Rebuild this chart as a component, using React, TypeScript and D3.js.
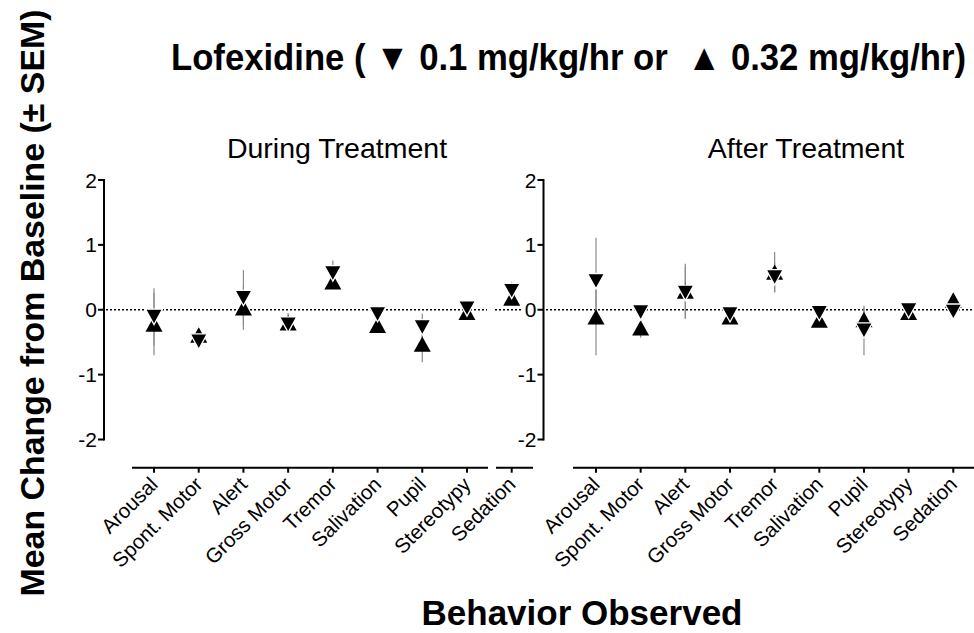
import React from "react";
import * as d3 from "d3";

const categories = ["Arousal", "Spont. Motor", "Alert", "Gross Motor", "Tremor", "Salivation", "Pupil", "Stereotypy", "Sedation"];
const yTicks = [2, 1, 0, -1, -2];

// During treatment: ▼ 0.1 mg/kg/hr and ▲ 0.32 mg/kg/hr
const duringLow = [-0.11, -0.49, 0.18, -0.23, 0.56, -0.07, -0.27, 0.02, 0.29];
const duringLowSem = [0.44, 0.05, 0.43, 0.1, 0.2, 0.04, 0.21, 0.03, 0.14];
const duringHigh = [-0.22, -0.39, 0.03, -0.2, 0.43, -0.24, -0.53, -0.04, 0.18];
const duringHighSem = [0.48, 0.1, 0.34, 0.15, 0.08, 0.05, 0.28, 0.05, 0.05];

// After treatment
const afterLow = [0.44, -0.04, 0.26, -0.07, 0.5, -0.05, -0.32, -0.01, -0.03];
const afterLowSem = [0.67, 0.05, 0.4, 0.05, 0.23, 0.05, 0.38, 0.05, 0.05];
const afterHigh = [-0.11, -0.28, 0.29, -0.11, 0.58, -0.16, -0.15, -0.04, 0.15];
const afterHighSem = [0.59, 0.15, 0.42, 0.05, 0.31, 0.05, 0.18, 0.05, 0.05];

const FONT = "'Liberation Sans', Arial, Helvetica, sans-serif";

const y = d3.scaleLinear().domain([-2, 2]).range([439.5, 180]);

const TW = 8.5;
const TH = 7.7;
const upPath = `M0,${-TH} L${TW},${TH} L${-TW},${TH} Z`;
const downPath = `M0,${TH} L${TW},${-TH} L${-TW},${-TH} Z`;

type PanelProps = {
  yAxisX: number;
  range: [number, number];
  low: number[];
  lowSem: number[];
  high: number[];
  highSem: number[];
  axisSegments: [number, number][];
  zeroSegments: [number, number][];
  title: string;
  titleX: number;
};

function Panel(p: PanelProps) {
  const x = d3.scalePoint<string>().domain(categories).range(p.range);
  const axisY = 467.7;
  return (
    <g>
      {/* y axis */}
      <line x1={p.yAxisX} x2={p.yAxisX} y1={y(2) - 1} y2={y(-2) + 1} stroke="#000" strokeWidth={2} />
      {yTicks.map((t) => (
        <g key={t}>
          <line x1={p.yAxisX - 6} x2={p.yAxisX} y1={y(t)} y2={y(t)} stroke="#000" strokeWidth={2} />
          <text x={p.yAxisX - 7} y={y(t)} dy="0.36em" textAnchor="end" fontSize={21} fontFamily={FONT}>
            {t < 0 ? `-${Math.abs(t)}` : t}
          </text>
        </g>
      ))}
      {/* zero dotted line */}
      {p.zeroSegments.map(([a, b], i) => (
        <line key={i} x1={a} x2={b} y1={y(0)} y2={y(0)} stroke="#000" strokeWidth={1.5} strokeDasharray="2,2" />
      ))}
      {/* x axis */}
      {p.axisSegments.map(([a, b], i) => (
        <line key={i} x1={a} x2={b} y1={axisY} y2={axisY} stroke="#000" strokeWidth={2} />
      ))}
      {categories.map((c) => (
        <g key={c}>
          <line x1={x(c)} x2={x(c)} y1={axisY} y2={axisY + 5} stroke="#000" strokeWidth={2} />
          <text
            transform={`translate(${(x(c) as number) + 5},${axisY + 18}) rotate(-45)`}
            textAnchor="end"
            fontSize={20.5}
            fontFamily={FONT}
          >
            {c}
          </text>
        </g>
      ))}
      {/* error bars */}
      {categories.map((c, i) => (
        <g key={"e" + c} stroke="#8a8a8a" strokeWidth={1.2}>
          <line x1={x(c)} x2={x(c)} y1={y(p.low[i] + p.lowSem[i])} y2={y(p.low[i] - p.lowSem[i])} />
          <line x1={x(c)} x2={x(c)} y1={y(p.high[i] + p.highSem[i])} y2={y(p.high[i] - p.highSem[i])} />
        </g>
      ))}
      {/* markers: high dose (up) behind, low dose (down) on top */}
      {categories.map((c, i) => (
        <path key={"u" + c} d={upPath} transform={`translate(${x(c)},${y(p.high[i])})`} fill="#000" />
      ))}
      {categories.map((c, i) => (
        <path
          key={"d" + c}
          d={downPath}
          transform={`translate(${x(c)},${y(p.low[i])})`}
          fill="#000"
          stroke="#fff"
          strokeWidth={1.3}
          strokeLinejoin="miter"
        />
      ))}
      <text x={p.titleX} y={158} textAnchor="middle" fontSize={28.5} fontFamily={FONT}>
        {p.title}
      </text>
    </g>
  );
}

export default function App() {
  return (
    <svg
      width={974}
      height={633}
      viewBox="0 0 974 633"
      style={{ position: "fixed", left: 0, top: 0, background: "#fff" }}
    >
      <rect width={974} height={633} fill="#fff" />
      <text
        x={171}
        y={70}
        fontSize={37}
        fontWeight="bold"
        fontFamily={FONT}
        textLength={795}
        lengthAdjust="spacingAndGlyphs"
        style={{ whiteSpace: "pre" }}
      >
        {"Lofexidine ( \u25BC 0.1 mg/kg/hr or  \u25B2 0.32 mg/kg/hr)"}
      </text>
      <Panel
        yAxisX={104}
        range={[154, 511.7]}
        low={duringLow}
        lowSem={duringLowSem}
        high={duringHigh}
        highSem={duringHighSem}
        axisSegments={[
          [132, 488],
          [496, 533],
        ]}
        zeroSegments={[
          [106, 487],
          [495, 521],
        ]}
        title="During Treatment"
        titleX={337}
      />
      <Panel
        yAxisX={543.5}
        range={[596, 953.3]}
        low={afterLow}
        lowSem={afterLowSem}
        high={afterHigh}
        highSem={afterHighSem}
        axisSegments={[[573, 974]]}
        zeroSegments={[[546, 974]]}
        title="After Treatment"
        titleX={806}
      />
      <text
        transform="translate(44,303) rotate(-90)"
        textAnchor="middle"
        fontSize={34}
        fontWeight="bold"
        fontFamily={FONT}
        textLength={587}
        lengthAdjust="spacingAndGlyphs"
      >
        Mean Change from Baseline (± SEM)
      </text>
      <text x={582} y={625} textAnchor="middle" fontSize={35} fontWeight="bold" fontFamily={FONT}>
        Behavior Observed
      </text>
    </svg>
  );
}
